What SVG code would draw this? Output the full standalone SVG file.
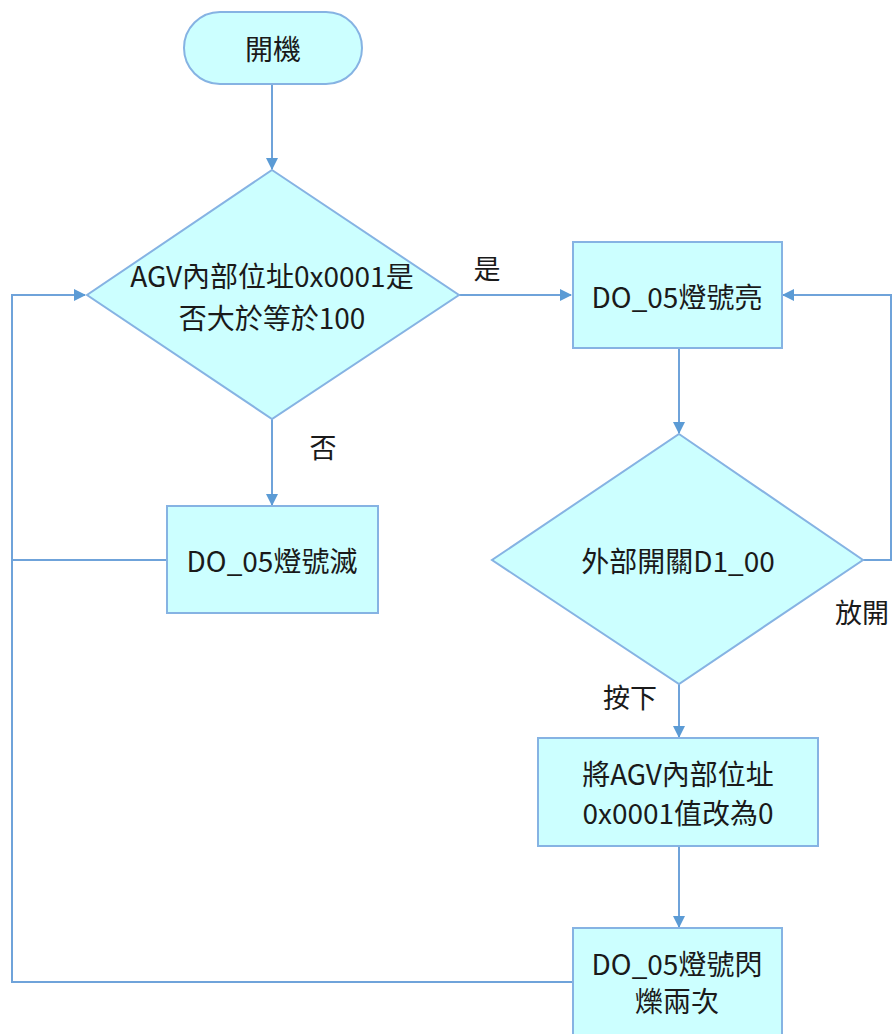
<svg xmlns="http://www.w3.org/2000/svg" width="894" height="1034" viewBox="0 0 894 1034">
<defs>
<marker id="arr" viewBox="0 0 12 12" refX="11" refY="6" markerWidth="12" markerHeight="12" markerUnits="userSpaceOnUse" orient="auto">
<path d="M0,0 L12,6 L0,12 Z" fill="#5b9bd5"/>
</marker>
<style>
.shape{fill:#ccffff;stroke:#86b3e3;stroke-width:2}
.conn{fill:none;stroke:#6fa3da;stroke-width:2}
.t{font-family:"Noto Sans CJK TC","Noto Sans",sans-serif;font-size:28px;fill:#1a1a1a;text-anchor:middle;dominant-baseline:central}
.l{font-size:27px}
</style>
</defs>
<rect width="894" height="1034" fill="#ffffff"/>
<g id="connectors">
<path class="conn" d="M272,84 L272,169" marker-end="url(#arr)"/>
<path class="conn" d="M459,295 L571,295" marker-end="url(#arr)"/>
<path class="conn" d="M272,419 L272,505" marker-end="url(#arr)"/>
<path class="conn" d="M679,349 L679,433" marker-end="url(#arr)"/>
<path class="conn" d="M863,560 L891,560 L891,295 L783,295" marker-end="url(#arr)"/>
<path class="conn" d="M679,684 L679,737" marker-end="url(#arr)"/>
<path class="conn" d="M679,846 L679,927" marker-end="url(#arr)"/>
<path class="conn" d="M167,560 L12,560"/>
<path class="conn" d="M572,982 L12,982 L12,295 L85,295" marker-end="url(#arr)"/>
<text class="t l" x="487" y="267">是</text>
<text class="t l" x="323" y="446">否</text>
<text class="t l" x="862" y="611">放開</text>
<text class="t l" x="630" y="696">按下</text>
</g>
<g id="start">
<rect class="shape" x="184" y="12" width="178" height="72" rx="36" ry="36"/>
<text class="t" x="273" y="48">開機</text>
</g>
<g id="decision1">
<polygon class="shape" points="272,170 459,295 272,419 87,295"/>
<text class="t" x="272" y="275">AGV內部位址0x0001是</text>
<text class="t" x="272" y="317">否大於等於100</text>
</g>
<g id="light_on">
<rect class="shape" x="573" y="242" width="209" height="106"/>
<text class="t" x="677" y="296">DO_05燈號亮</text>
</g>
<g id="light_off">
<rect class="shape" x="167" y="506" width="211" height="107"/>
<text class="t" x="272" y="560">DO_05燈號滅</text>
</g>
<g id="decision2">
<polygon class="shape" points="679,434 863,560 679,684 492,560"/>
<text class="t" x="678" y="560">外部開關D1_00</text>
</g>
<g id="reset">
<rect class="shape" x="538" y="738" width="280" height="108"/>
<text class="t" x="678" y="773">將AGV內部位址</text>
<text class="t" x="678" y="812">0x0001值改為0</text>
</g>
<g id="blink">
<rect class="shape" x="573" y="928" width="209" height="120"/>
<text class="t" x="677" y="963">DO_05燈號閃</text>
<text class="t" x="677" y="1000">爍兩次</text>
</g>
</svg>
